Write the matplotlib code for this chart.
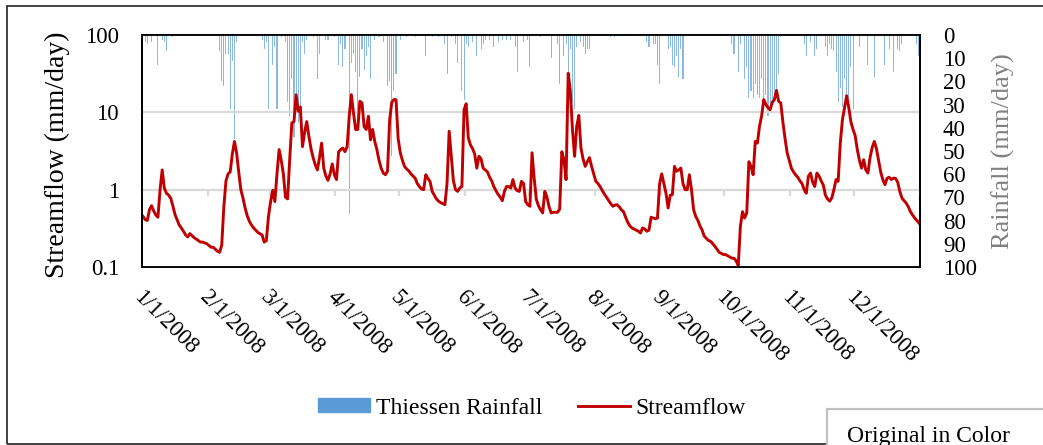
import numpy as np
import matplotlib.pyplot as plt
from matplotlib.patches import Rectangle
from matplotlib.lines import Line2D
from matplotlib.ticker import NullLocator
from matplotlib.transforms import ScaledTranslation

plt.rcParams['font.family'] = ['Liberation Serif', 'DejaVu Serif']

# Daily streamflow for 2008 (mm/day), one list per month
q_jan = [0.45, 0.41, 0.40, 0.55, 0.62, 0.53, 0.47, 0.44, 1.0, 1.8,
         1.05, 0.9, 0.85, 0.78, 0.62, 0.48, 0.41, 0.35, 0.32, 0.29,
         0.26, 0.245, 0.27, 0.255, 0.24, 0.23, 0.22, 0.21, 0.21, 0.205, 0.2]
q_feb = [0.19, 0.18, 0.18, 0.17, 0.16, 0.155, 0.19, 0.6, 1.3, 1.6,
         1.7, 2.9, 4.2, 3.0, 1.7, 1.0, 0.78, 0.58, 0.46, 0.39,
         0.35, 0.32, 0.3, 0.28, 0.27, 0.26, 0.21, 0.22, 0.45]
q_mar = [0.7, 0.98, 0.7, 1.6, 3.3, 2.4, 1.6, 0.8, 0.76, 2.5,
         7.3, 7.6, 16.9, 10.3, 11.7, 3.6, 5.5, 7.6, 4.9, 3.4,
         2.6, 2.1, 1.8, 2.6, 4.0, 1.9, 1.5, 1.32, 1.6, 2.15, 1.56]
q_apr = [1.35, 3.1, 3.3, 3.45, 3.1, 3.6, 9.0, 16.9, 9.8, 6.0,
         6.0, 13.9, 13.2, 6.5, 6.0, 8.9, 4.4, 6.0, 4.2, 3.3,
         2.4, 1.9, 1.64, 1.56, 1.73, 8.0, 13.5, 14.6, 14.6, 4.6]
q_may = [3.0, 2.4, 2.0, 1.85, 1.75, 1.6, 1.5, 1.41, 1.2, 1.1,
         1.02, 1.0, 1.56, 1.4, 1.28, 0.95, 0.85, 0.76, 0.71, 0.68,
         0.66, 0.64, 1.2, 5.7, 2.7, 1.3, 1.0, 0.95, 1.05, 1.1, 10.8]
q_jun = [12.9, 4.7, 3.8, 3.4, 2.9, 1.9, 2.7, 2.5, 1.9, 1.8,
         1.7, 1.45, 1.3, 1.1, 0.97, 0.87, 0.8, 0.72, 0.95, 1.1,
         1.1, 1.05, 1.35, 1.05, 0.97, 0.95, 1.28, 1.2, 0.7, 0.64]
q_jul = [0.61, 3.0, 1.4, 0.75, 0.62, 0.55, 0.5, 0.95, 0.8, 0.6,
         0.5, 0.51, 0.51, 0.51, 0.56, 3.1, 2.44, 1.35, 32.0, 19.0,
         6.0, 2.7, 6.6, 9.1, 3.45, 2.5, 2.0, 2.3, 2.6, 2.0, 1.6]
q_aug = [1.28, 1.2, 1.1, 0.98, 0.88, 0.8, 0.73, 0.66, 0.61, 0.63,
         0.64, 0.6, 0.55, 0.52, 0.44, 0.38, 0.34, 0.32, 0.31, 0.3,
         0.29, 0.275, 0.32, 0.31, 0.29, 0.3, 0.44, 0.43, 0.42, 0.43, 1.2]
q_sep = [1.6, 1.2, 0.9, 0.58, 0.85, 0.86, 2.0, 1.73, 1.8, 1.9,
         1.2, 1.0, 1.0, 1.56, 1.0, 0.55, 0.45, 0.4, 0.34, 0.3,
         0.25, 0.235, 0.22, 0.215, 0.2, 0.185, 0.17, 0.155, 0.15, 0.145]
q_oct = [0.145, 0.14, 0.135, 0.13, 0.13, 0.12, 0.105, 0.335, 0.52, 0.43,
         0.5, 2.3, 2.0, 1.56, 4.2, 4.0, 6.6, 9.0, 14.6, 12.6,
         11.5, 10.8, 13.5, 14.6, 19.2, 13.9, 13.2, 7.5, 4.6, 3.0, 2.4]
q_nov = [1.9, 1.7, 1.55, 1.45, 1.3, 1.2, 1.0, 0.9, 1.49, 1.64,
         1.25, 1.1, 1.64, 1.5, 1.3, 1.15, 0.85, 0.76, 0.71, 0.78,
         1.0, 1.35, 1.28, 4.0, 8.0, 11.5, 16.4, 11.5, 7.5, 6.0]
q_dec = [5.0, 3.3, 2.4, 1.9, 2.44, 1.8, 1.64, 2.6, 3.5, 4.2,
         3.4, 2.4, 1.7, 1.35, 1.16, 1.4, 1.45, 1.35, 1.41, 1.4,
         1.25, 0.95, 0.78, 0.72, 0.67, 0.6, 0.52, 0.47, 0.43, 0.4, 0.37]

# Thiessen rainfall: day of year (0 = 1 Jan) and depth in mm/day
rain_day = [1, 2, 4, 7, 9, 10, 11, 14,
            36, 37, 38, 39, 40, 41, 42, 43, 44, 56, 57, 58, 59,
            61, 62, 63, 65, 67, 68, 69, 70, 71, 72, 73, 74, 75, 76, 77, 80, 82, 83, 86, 87, 90,
            92, 93, 94, 95, 97, 98, 99, 100, 101, 102, 103, 104, 105, 106, 107, 109, 111, 113,
            115, 116, 117, 118, 119,
            121, 124, 128, 133, 136, 139, 142, 143, 145, 147, 148, 150, 151,
            152, 153, 155, 157, 159, 160, 161, 163, 165, 167, 169, 171, 173, 175, 176, 179, 181,
            182, 187, 192, 195, 196, 198, 199, 200, 201, 202, 203, 204, 206, 207, 208, 209, 210,
            220, 222, 237, 238, 240, 241, 242, 243,
            247, 248, 249, 250, 251, 252, 253, 254,
            277, 278, 280, 281, 283, 284, 285, 286, 287, 288, 289, 290, 291, 292, 293, 294,
            295, 296, 297, 298, 299, 300,
            311, 312, 314, 316, 317, 321, 322, 323, 324, 325, 326, 327, 328, 329, 330, 331,
            332, 333, 334,
            337, 341, 344, 349, 351, 353, 355, 356, 357, 364, 365]
rain_mm = [3, 4, 3, 13, 2, 3, 7, 1,
           7, 20, 22, 8, 8, 32, 11, 45, 3, 2, 6, 3, 32,
           13, 5, 32, 1, 3, 29, 35, 19, 44, 30, 38, 42, 3, 8, 2, 1, 19, 8, 2, 2, 1,
           13, 4, 14, 6, 77, 12, 8, 16, 41, 18, 6, 15, 9, 5, 19, 2, 1, 3,
           22, 20, 52, 24, 17,
           2, 1, 1, 9, 1, 1, 4, 17, 1, 4, 12, 24, 28,
           4, 5, 3, 9, 6, 4, 2, 2, 5, 3, 2, 2, 2, 5, 16, 3, 2,
           14, 1, 10, 4, 21, 9, 4, 24, 6, 29, 32, 5, 3, 5, 8, 6, 6,
           1, 1, 3, 5, 4, 4, 13, 21,
           6, 5, 13, 14, 9, 18, 6, 19,
           4, 8, 16, 4, 19, 14, 27, 24, 27, 21, 26, 27, 19, 29, 26, 35,
           32, 28, 29, 27, 17, 1,
           4, 9, 3, 9, 6, 5, 9, 4, 6, 7, 16, 29, 23, 31, 19, 29,
           27, 14, 32,
           5, 13, 18, 13, 6, 16, 6, 7, 4, 4, 9]

month_labels = ['1/1/2008', '2/1/2008', '3/1/2008', '4/1/2008', '5/1/2008', '6/1/2008',
                '7/1/2008', '8/1/2008', '9/1/2008', '10/1/2008', '11/1/2008', '12/1/2008']

q_months = [q_jan, q_feb, q_mar, q_apr, q_may, q_jun,
            q_jul, q_aug, q_sep, q_oct, q_nov, q_dec]
streamflow = np.concatenate(q_months)
n_days = len(streamflow)
month_start = np.cumsum([0] + [len(m) for m in q_months[:-1]])
days = np.arange(n_days) + 0.5

W, H = 1043, 445
fig = plt.figure(figsize=(W / 100, H / 100), dpi=100)
ax = fig.add_axes([142 / W, 1 - 267 / H, (920 - 142) / W, (267 - 35) / H])
ax2 = ax.twinx()

# rainfall hangs from the top on an inverted secondary axis
ax2.bar(np.array(rain_day) + 0.5, rain_mm, width=0.5, color='#5b9bd5',
        alpha=0.7, linewidth=0)
ax2.set_ylim(100, 0)
ax2.set_yticks(range(0, 101, 10))
ax2.tick_params(axis='y', length=0, pad=16.5, labelsize=16.5)

ax.set_zorder(ax2.get_zorder() + 1)
ax.patch.set_visible(False)
ax.plot(days, streamflow, color='#c00000', lw=2.1, solid_joinstyle='round')
ax.set_yscale('log')
ax.set_ylim(0.1, 100)
ax.set_xlim(0, n_days)
ax.set_yticks([0.1, 1, 10, 100])
ax.set_yticklabels(['0.1', '1', '10', '100'])
ax.yaxis.set_minor_locator(NullLocator())
ax.tick_params(axis='y', length=0, pad=16.5, labelsize=16.5)
ax.yaxis.grid(True, color='#d9d9d9', lw=1.6)
ax.set_axisbelow(True)

# small month ticks hanging off the y = 1 line
ax.vlines(list(month_start) + [n_days], 0.84, 1, color='#d9d9d9', lw=1.6, zorder=1)

ax.set_xticks(month_start)
ax.set_xticklabels(month_labels, rotation=-45, ha='left', va='top',
                   rotation_mode='anchor')
ax.tick_params(axis='x', length=0, pad=14, labelsize=16.5)
shift = ScaledTranslation(2 / 100, 0, fig.dpi_scale_trans)
for lab in ax.get_xticklabels():
    lab.set_transform(lab.get_transform() + shift)

for a in (ax, ax2):
    for sp in a.spines.values():
        sp.set_color('black')
        sp.set_linewidth(1.3)

fig.text(57 / W, 1 - 155 / H, 'Streamflow (mm/day)', rotation=90,
         ha='center', va='center', fontsize=20)
fig.text(1003 / W, 1 - 151 / H, 'Rainfall (mm/day)', rotation=90,
         ha='center', va='center', fontsize=19, color='#808080')

handles = [Rectangle((0, 0), 1, 1, color='#5b9bd5'),
           Line2D([], [], color='#c00000', lw=2.1)]
fig.legend(handles, ['Thiessen Rainfall', 'Streamflow'], loc='center',
           bbox_to_anchor=(532 / W, 1 - 408 / H), ncol=2, frameon=False,
           fontsize=17, handlelength=2.2, handleheight=0.5,
           handletextpad=0.25, columnspacing=1.5)

# outer frame and the corner note
fig.add_artist(Rectangle((7 / W, 1 - 444 / H), 1.1, (444 - 6) / H,
                         transform=fig.transFigure, fill=False,
                         ec='#202020', lw=1.2))
fig.add_artist(Rectangle((827 / W, -0.1), 0.3, 0.1 + 1 - 409 / H,
                         transform=fig.transFigure, fc='white',
                         ec='#c0c0c0', lw=1.6))
fig.text(847 / W, 1 - 442 / H, 'Original in Color', fontsize=17, va='baseline')

fig.savefig('out.png', dpi=100)
